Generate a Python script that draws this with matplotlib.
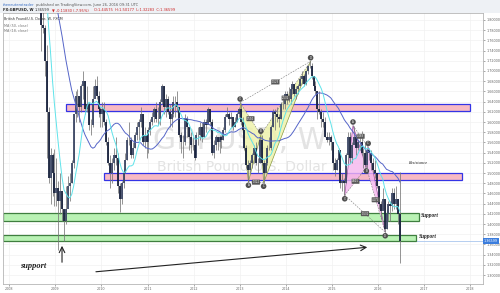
import numpy as np
import pandas as pd
import matplotlib
matplotlib.use('Agg')
import matplotlib.pyplot as plt
from matplotlib.patches import Rectangle, Polygon

# half-month GBPUSD bars, Jul 2007 .. Jun 2016 (close / high / low)
closes = [2.040, 2.030, 2.005, 2.015, 2.030, 2.045, 2.040, 2.080, 2.080, 2.055, 2.030, 1.990,
          1.960, 1.990, 1.955, 1.990, 2.020, 1.985, 1.965, 1.985, 1.950, 1.980, 1.960, 1.995,
          1.985, 1.985, 1.870, 1.820, 1.790, 1.785, 1.720, 1.620, 1.490, 1.535, 1.500, 1.460,
          1.470, 1.445, 1.465, 1.430, 1.405, 1.430, 1.475, 1.480, 1.520, 1.615, 1.650, 1.650,
          1.630, 1.670, 1.680, 1.625, 1.635, 1.595, 1.595, 1.645, 1.670, 1.650, 1.625, 1.615,
          1.625, 1.600, 1.560, 1.520, 1.500, 1.520, 1.535, 1.530, 1.475, 1.450, 1.480, 1.500,
          1.525, 1.565, 1.565, 1.535, 1.550, 1.575, 1.590, 1.600, 1.615, 1.560, 1.575, 1.560,
          1.585, 1.600, 1.610, 1.625, 1.605, 1.605, 1.640, 1.670, 1.630, 1.645, 1.620, 1.605,
          1.615, 1.640, 1.640, 1.630, 1.575, 1.560, 1.560, 1.605, 1.590, 1.570, 1.555, 1.555,
          1.530, 1.575, 1.575, 1.590, 1.570, 1.600, 1.595, 1.625, 1.600, 1.540, 1.555, 1.570,
          1.560, 1.570, 1.565, 1.585, 1.610, 1.615, 1.605, 1.610, 1.590, 1.600, 1.615, 1.625,
          1.600, 1.585, 1.550, 1.515, 1.505, 1.520, 1.535, 1.550, 1.520, 1.520, 1.565, 1.520,
          1.500, 1.520, 1.550, 1.550, 1.590, 1.620, 1.615, 1.610, 1.605, 1.635, 1.635, 1.655,
          1.645, 1.645, 1.665, 1.675, 1.655, 1.665, 1.670, 1.685, 1.690, 1.675, 1.700, 1.710,
          1.710, 1.690, 1.670, 1.660, 1.625, 1.620, 1.605, 1.600, 1.570, 1.565, 1.570, 1.560,
          1.520, 1.505, 1.525, 1.545, 1.480, 1.485, 1.480, 1.535, 1.570, 1.530, 1.555, 1.570,
          1.550, 1.560, 1.560, 1.540, 1.540, 1.515, 1.545, 1.540, 1.520, 1.505, 1.500, 1.475,
          1.440, 1.425, 1.450, 1.390, 1.420, 1.440, 1.435, 1.460, 1.440, 1.450, 1.420, 1.366]
highs = [2.045, 2.065, 2.040, 2.025, 2.035, 2.045, 2.050, 2.080, 2.110, 2.090, 2.055, 2.025,
         1.990, 1.995, 1.975, 1.990, 2.030, 2.025, 1.995, 2.000, 1.985, 1.985, 1.980, 1.998,
         2.000, 2.000, 1.990, 1.890, 1.830, 1.845, 1.790, 1.750, 1.630, 1.550, 1.540, 1.548,
         1.530, 1.485, 1.500, 1.460, 1.420, 1.475, 1.495, 1.500, 1.525, 1.615, 1.660, 1.665,
         1.650, 1.675, 1.700, 1.680, 1.670, 1.640, 1.605, 1.670, 1.685, 1.690, 1.660, 1.630,
         1.640, 1.640, 1.605, 1.570, 1.535, 1.530, 1.550, 1.570, 1.540, 1.480, 1.485, 1.510,
         1.540, 1.570, 1.600, 1.570, 1.560, 1.580, 1.600, 1.605, 1.630, 1.615, 1.590, 1.580,
         1.590, 1.605, 1.620, 1.630, 1.640, 1.630, 1.645, 1.675, 1.670, 1.655, 1.650, 1.635,
         1.625, 1.650, 1.650, 1.660, 1.630, 1.580, 1.575, 1.615, 1.612, 1.590, 1.580, 1.570,
         1.555, 1.580, 1.590, 1.600, 1.600, 1.605, 1.605, 1.630, 1.625, 1.605, 1.565, 1.575,
         1.570, 1.575, 1.575, 1.590, 1.615, 1.630, 1.620, 1.620, 1.605, 1.610, 1.620, 1.630,
         1.638, 1.610, 1.585, 1.555, 1.525, 1.525, 1.540, 1.555, 1.560, 1.530, 1.570, 1.575,
         1.525, 1.540, 1.555, 1.570, 1.595, 1.625, 1.625, 1.630, 1.615, 1.640, 1.645, 1.660,
         1.660, 1.668, 1.670, 1.680, 1.675, 1.670, 1.675, 1.690, 1.700, 1.695, 1.700, 1.712,
         1.719, 1.715, 1.690, 1.680, 1.660, 1.660, 1.625, 1.620, 1.610, 1.580, 1.580, 1.575,
         1.555, 1.530, 1.530, 1.550, 1.545, 1.500, 1.490, 1.540, 1.580, 1.580, 1.560, 1.593,
         1.575, 1.565, 1.570, 1.582, 1.550, 1.560, 1.551, 1.550, 1.545, 1.530, 1.525, 1.500,
         1.475, 1.445, 1.470, 1.445, 1.430, 1.445, 1.445, 1.470, 1.470, 1.475, 1.450, 1.502]
lows = [2.005, 2.025, 2.000, 1.982, 2.000, 2.005, 2.030, 2.035, 2.065, 2.045, 2.015, 1.970,
        1.950, 1.940, 1.935, 1.950, 1.985, 1.970, 1.950, 1.960, 1.940, 1.945, 1.940, 1.955,
        1.970, 1.975, 1.860, 1.815, 1.740, 1.775, 1.690, 1.530, 1.480, 1.440, 1.455, 1.435,
        1.435, 1.350, 1.420, 1.405, 1.366, 1.400, 1.440, 1.445, 1.480, 1.510, 1.600, 1.610,
        1.600, 1.620, 1.645, 1.615, 1.620, 1.585, 1.575, 1.590, 1.655, 1.645, 1.610, 1.590,
        1.590, 1.595, 1.555, 1.515, 1.470, 1.480, 1.505, 1.515, 1.460, 1.423, 1.440, 1.470,
        1.500, 1.525, 1.555, 1.530, 1.530, 1.550, 1.565, 1.565, 1.590, 1.555, 1.550, 1.530,
        1.540, 1.575, 1.595, 1.600, 1.600, 1.595, 1.595, 1.635, 1.615, 1.610, 1.615, 1.590,
        1.590, 1.610, 1.610, 1.620, 1.570, 1.540, 1.530, 1.555, 1.570, 1.545, 1.540, 1.545,
        1.525, 1.535, 1.555, 1.565, 1.560, 1.570, 1.580, 1.600, 1.595, 1.535, 1.530, 1.545,
        1.545, 1.540, 1.550, 1.565, 1.580, 1.610, 1.595, 1.590, 1.585, 1.590, 1.600, 1.610,
        1.595, 1.565, 1.545, 1.510, 1.483, 1.500, 1.510, 1.520, 1.515, 1.500, 1.520, 1.515,
        1.481, 1.505, 1.515, 1.545, 1.545, 1.590, 1.585, 1.600, 1.590, 1.605, 1.625, 1.625,
        1.635, 1.640, 1.635, 1.655, 1.650, 1.645, 1.655, 1.670, 1.675, 1.670, 1.672, 1.695,
        1.705, 1.685, 1.665, 1.655, 1.605, 1.615, 1.590, 1.590, 1.570, 1.560, 1.555, 1.545,
        1.505, 1.495, 1.505, 1.525, 1.470, 1.465, 1.456, 1.480, 1.520, 1.520, 1.520, 1.565,
        1.535, 1.545, 1.545, 1.535, 1.510, 1.511, 1.510, 1.525, 1.505, 1.500, 1.490, 1.470,
        1.430, 1.410, 1.430, 1.384, 1.390, 1.405, 1.405, 1.425, 1.430, 1.430, 1.400, 1.323]
first_open = 2.005
last_close = 1.36599

years = list(range(2008, 2019))
price_ticks = [1.30, 1.32, 1.34, 1.36, 1.38, 1.40, 1.42, 1.44, 1.46, 1.48, 1.50, 1.52, 1.54,
               1.56, 1.58, 1.60, 1.62, 1.64, 1.66, 1.68, 1.70, 1.72, 1.74, 1.76, 1.78, 1.80]

# drawn zones (x0, x1, y0, y1)
pink_zones = [(2009.22, 2018.0, 1.6216, 1.6353), (2010.06, 2017.83, 1.4863, 1.5000)]
green_zones = [(2007.86, 2016.89, 1.4059, 1.4216), (2007.86, 2016.83, 1.3667, 1.3784)]

# harmonic patterns X A B C D
pat1_t = [2013.01, 2013.19, 2013.46, 2013.52, 2014.54]
pat1_p = [1.638, 1.483, 1.575, 1.481, 1.719]
pat2_t = [2015.28, 2015.46, 2015.75, 2015.79, 2016.16]
pat2_p = [1.4565, 1.593, 1.511, 1.551, 1.384]

closes = np.array(closes)
highs = np.array(highs)
lows = np.array(lows)
opens = np.r_[first_open, closes[:-1]]
t = 2007.5 + (np.arange(len(closes)) + 0.5) / 24.0
ma50 = pd.Series(closes).rolling(25).mean()
ma18 = pd.Series(closes).rolling(9).mean()

fig = plt.figure(figsize=(5, 2.93), dpi=100)
fig.patch.set_facecolor('white')
fig.patches.append(Rectangle((0, 1 - 12.5 / 293), 1, 12.5 / 293, transform=fig.transFigure,
                             facecolor='#eef1f5', edgecolor='none', zorder=0))

ax = fig.add_axes([3 / 500, 1 - 284 / 293, 480 / 500, 271 / 293])
ax.set_xlim(2007.863, 2018.282)
ax.set_ylim(1.2824, 1.8137)

for y in price_ticks:
    ax.axhline(y, color='#f2f2f2', lw=0.5, zorder=0)
for yr in years:
    ax.axvline(yr, color='#f2f2f2', lw=0.5, zorder=0)

# watermark
ax.text(2013.0, 1.5647, 'GBPUSD, W', fontsize=21.5, color='#e3e3e3', ha='center', va='center', zorder=0)
ax.text(2013.05, 1.5118, 'British Pound/U.S. Dollar', fontsize=10, color='#e3e3e3', ha='center',
        va='center', zorder=0)

# current price line
ax.axhline(last_close, color='#a9c6ee', lw=0.6, zorder=1)

# zones
for x0, x1, y0, y1 in pink_zones:
    ax.add_patch(Rectangle((x0, y0), x1 - x0, y1 - y0, facecolor='#f7b9c3', edgecolor='#3434e6',
                           lw=0.9, zorder=2))
for x0, x1, y0, y1 in green_zones:
    ax.add_patch(Rectangle((x0, y0), x1 - x0, y1 - y0, facecolor='#b9f2b4', edgecolor='#3f7f3f',
                           lw=0.9, zorder=2))


def draw_pattern(pt, pp, fill, edge):
    ax.add_patch(Polygon(list(zip(pt[:3], pp[:3])), closed=True, facecolor=fill, edgecolor='none',
                         alpha=0.8, zorder=3))
    ax.add_patch(Polygon(list(zip(pt[2:], pp[2:])), closed=True, facecolor=fill, edgecolor='none',
                         alpha=0.8, zorder=3))
    ax.plot(pt, pp, color=edge, lw=0.5, zorder=4)
    ratios = [abs(pp[2] - pp[1]) / abs(pp[1] - pp[0]),
              abs(pp[3] - pp[2]) / abs(pp[2] - pp[1]),
              abs(pp[4] - pp[3]) / abs(pp[3] - pp[2]),
              abs(pp[4] - pp[1]) / abs(pp[1] - pp[0])]
    for (i, j), r in zip([(0, 2), (1, 3), (2, 4), (0, 4)], ratios):
        ax.plot([pt[i], pt[j]], [pp[i], pp[j]], color='#7a7a7a', lw=0.4, ls=(0, (3, 2)), zorder=4)
        ax.text((pt[i] + pt[j]) / 2, (pp[i] + pp[j]) / 2, '%.3f' % r, fontsize=1.8, color='white',
                ha='center', va='center', zorder=6,
                bbox=dict(boxstyle='round,pad=0.2', fc='#5a5a5a', ec='none'))
    for k, name in enumerate('XABCD'):
        low = (k % 2 == 1) == (pp[1] < pp[0])
        off = -0.007 if low else 0.007
        ax.text(pt[k], pp[k] + off, name, fontsize=1.9, color='white', ha='center', va='center',
                zorder=6, bbox=dict(boxstyle='circle,pad=0.3', fc='#505050', ec='none'))


draw_pattern(pat1_t, pat1_p, '#eef2a6', '#8a9a40')
draw_pattern(pat2_t, pat2_p, '#f4b6ee', '#a050a0')

# candles
up = closes >= opens
ax.vlines(t, lows, highs, color='#767676', lw=0.55, zorder=5)
ax.vlines(t[up], opens[up], closes[up], color='#3d4866', lw=1.3, zorder=5)
ax.vlines(t[~up], closes[~up], opens[~up], color='#17213d', lw=1.3, zorder=5)

# moving averages
ax.plot(t, ma50, color='#5565c8', lw=0.7, zorder=5)
ax.plot(t, ma18, color='#5fe3ea', lw=0.7, zorder=5)

# annotations
tf = dict(family='Liberation Serif', style='italic', color='#222222')
ax.text(2016.65, 1.5196, 'Resistance', fontsize=3.2, ha='left', va='center', zorder=7, **tf)
ax.text(2016.93, 1.4176, 'Support', fontsize=4, weight='bold', ha='left', va='center', zorder=7, **tf)
ax.text(2016.89, 1.3755, 'Support', fontsize=4, weight='bold', ha='left', va='center', zorder=7, **tf)
ax.text(2008.23, 1.3176, 'support', fontsize=6, weight='bold', ha='left', va='center', zorder=7, **tf)
ax.annotate('', xy=(2009.144, 1.3627), xytext=(2009.144, 1.3196),
            arrowprops=dict(arrowstyle='->', color='#222222', lw=0.8), zorder=7)
ax.annotate('', xy=(2015.83, 1.3549), xytext=(2009.82, 1.3059),
            arrowprops=dict(arrowstyle='->', color='#222222', lw=0.8), zorder=7)

# legend block
ax.text(0.003, 0.985, 'British Pound/U.S. Dollar, W, FXCM', transform=ax.transAxes, fontsize=2.4,
        color='#333333', va='top', zorder=8)
ax.text(0.003, 0.96, 'MA (50, close)', transform=ax.transAxes, fontsize=2.4, color='#777777',
        va='top', zorder=8)
ax.text(0.003, 0.94, 'MA (18, close)', transform=ax.transAxes, fontsize=2.4, color='#777777',
        va='top', zorder=8)

# axes
for s in ax.spines.values():
    s.set_color('#b5b5b5')
    s.set_linewidth(0.6)
ax.yaxis.tick_right()
ax.set_yticks(price_ticks)
ax.set_yticklabels(['%.5f' % p for p in price_ticks])
ax.set_xticks(years)
ax.set_xticklabels([str(y) for y in years])
ax.tick_params(axis='both', labelsize=2.4, colors='#666666', length=1.5, width=0.4, pad=1)
ax.text(1.002, last_close, '%.5f' % last_close, transform=ax.get_yaxis_transform(), fontsize=2.4,
        color='white', va='center', ha='left', zorder=9,
        bbox=dict(boxstyle='square,pad=0.3', fc='#3b7ddd', ec='none'))

# header
fig.text(0.006, 0.99, 'theneuterotrader', fontsize=2.6, color='#3a6fc4', va='top')
fig.text(0.072, 0.99, 'published on TradingView.com, June 26, 2016 09:31 UTC', fontsize=2.6,
         color='#555555', va='top')
fig.text(0.006, 0.972, 'FX:GBPUSD, W', fontsize=2.6, color='#222222', weight='bold', va='top')
fig.text(0.070, 0.972, '1.36599', fontsize=2.6, color='#333333', va='top')
fig.text(0.104, 0.972, '\u25bc -0.11830 (-7.95%)', fontsize=2.6, color='#cc2222', va='top')
fig.text(0.187, 0.972, 'O:1.44575  H:1.50177  L:1.32283  C:1.36599', fontsize=2.6, color='#cc2222',
         va='top')

fig.savefig('out.png', dpi=100)
